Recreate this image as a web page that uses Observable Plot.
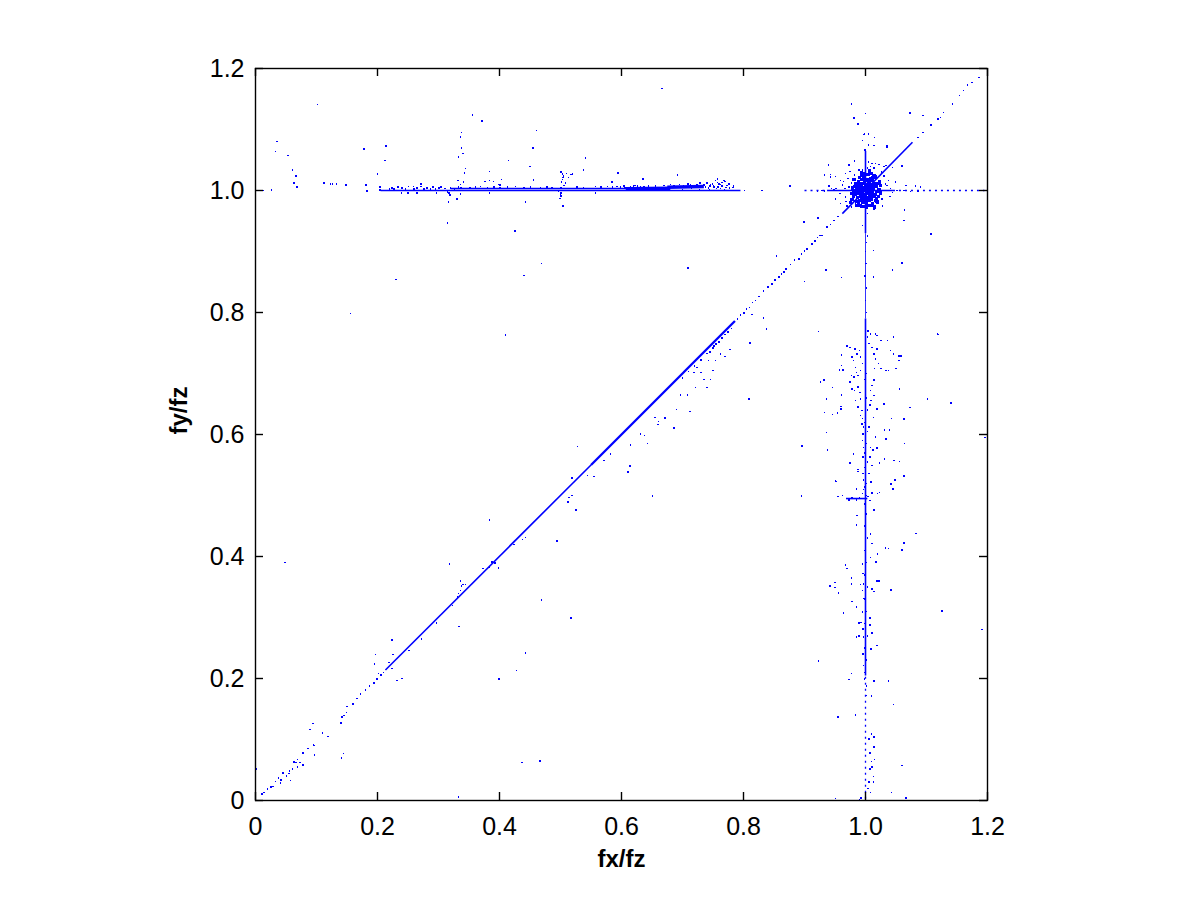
<!DOCTYPE html>
<html><head><meta charset="utf-8">
<script src="https://cdn.jsdelivr.net/npm/d3@7"></script>
<script src="https://cdn.jsdelivr.net/npm/@observablehq/plot@0.6"></script>
<style>body{margin:0;background:#fff}#chart{width:1200px;height:900px}</style>
</head><body><div id="chart"></div>
<script>
// ---- axis data ----
const xTicks = [0, 0.2, 0.4, 0.6, 0.8, 1.0, 1.2];
const yTicks = [0, 0.2, 0.4, 0.6, 0.8, 1.0, 1.2];
const tickLabels = ["0", "0.2", "0.4", "0.6", "0.8", "1.0", "1.2"];
const xLabel = "fx/fz";
const yLabel = "fy/fz";

// ---- dense runs of points that read as continuous lines: [x1, y1, x2, y2] ----
const denseRuns = [
  [0.213, 0.214, 0.55, 0.55],
  [0.205, 1.0, 0.795, 1.0],
  [0.32, 1.0033, 0.61, 1.0033],
  [1.0, 0.205, 1.0, 0.79],
  [0.937, 1.0, 1.045, 1.0],
  [1.0, 0.93, 1.0, 1.065],
  [0.962, 0.962, 1.077, 1.079],
  [0.968, 0.495, 1.003, 0.495]
];
const heavyRuns = [[0.55, 0.55, 0.786, 0.786]];
const cometRuns = [[0.607, 1.003, 0.68, 1.0035], [0.675, 1.0055, 0.735, 1.0065]];
const faintRuns = [[1.0, 0.79, 1.0, 0.93]];
const dottedRuns = [[1.0, 0.003, 1.0, 0.205], [0.9, 1.0, 0.937, 1.0], [1.045, 1.0, 1.195, 1.0]];

// ---- individual points [fx/fz, fy/fz] ----
const diagLowPts = [[0.202,0.208],[0.199,0.199],[0.194,0.193],[0.187,0.188],[0.180,0.181],[0.172,0.175],[0.166,0.167],[0.160,0.158],[0.150,0.154],[0.149,0.144],[0.145,0.139],[0.142,0.137],[0.140,0.127],[0.144,0.077],[0.141,0.070],[0.119,0.105],[0.110,0.111],[0.094,0.126],[0.089,0.116],[0.095,0.091],[0.097,0.090],[0.097,0.075],[0.086,0.085],[0.078,0.078],[0.078,0.058],[0.069,0.067],[0.066,0.062],[0.073,0.062],[0.069,0.055],[0.063,0.063],[0.061,0.052],[0.056,0.048],[0.055,0.044],[0.057,0.033],[0.051,0.040],[0.045,0.045],[0.042,0.034],[0.038,0.037],[0.041,0.029],[0.033,0.031],[0.029,0.023],[0.025,0.022],[0.020,0.019],[0.014,0.013],[0.011,0.011],[0.001,0.052],[0.195,0.224],[0.197,0.239],[0.224,0.263],[0.225,0.239],[0.219,0.226],[0.224,0.216],[0.232,0.197],[0.240,0.200],[0.210,0.210],[0.206,0.206]];

const diagMidPts = [[0.272,0.265],[0.252,0.246],[0.297,0.291],[0.323,0.320],[0.334,0.285],[0.336,0.360],[0.338,0.352],[0.336,0.344],[0.340,0.354],[0.344,0.354],[0.331,0.334],[0.333,0.339],[0.318,0.388],[0.373,0.380],[0.383,0.382],[0.388,0.391],[0.393,0.389],[0.399,0.199],[0.428,0.213],[0.443,0.242],[0.437,0.062],[0.466,0.065],[0.333,0.006],[0.384,0.460],[0.494,0.425],[0.469,0.329],[0.517,0.299],[0.525,0.476],[0.512,0.489],[0.514,0.497],[0.519,0.500],[0.544,0.533],[0.555,0.531],[0.571,0.557],[0.582,0.568],[0.611,0.538],[0.614,0.548],[0.398,0.381],[0.443,0.431],[0.438,0.428],[0.424,0.420],[0.528,0.580],[0.519,0.529],[0.651,0.499],[0.613,0.548],[0.611,0.539],[0.615,0.583],[0.631,0.601],[0.638,0.598],[0.643,0.585],[0.655,0.628],[0.660,0.616],[0.661,0.621],[0.671,0.627],[0.686,0.611],[0.690,0.641],[0.712,0.638],[0.697,0.665],[0.708,0.665],[0.721,0.677],[0.740,0.677],[0.735,0.690],[0.746,0.690],[0.750,0.705],[0.719,0.702],[0.730,0.702],[0.724,0.710],[0.743,0.721],[0.754,0.721],[0.762,0.732],[0.770,0.728],[0.778,0.739],[0.809,0.658],[0.811,0.750],[0.838,0.773],[0.048,0.390],[0.700,0.693],[0.710,0.703],[0.720,0.712],[0.730,0.722],[0.740,0.733],[0.745,0.735],[0.750,0.742],[0.752,0.745],[0.755,0.748],[0.760,0.752],[0.765,0.758],[0.770,0.764],[0.775,0.768],[0.780,0.774]];

const diagUpperPts = [[0.790,0.789],[0.795,0.796],[0.801,0.799],[0.805,0.806],[0.810,0.808],[0.815,0.816],[0.820,0.820],[0.825,0.826],[0.833,0.835],[0.840,0.842],[0.847,0.847],[0.852,0.853],[0.858,0.858],[0.862,0.863],[0.866,0.866],[0.870,0.871],[0.877,0.879],[0.884,0.886],[0.891,0.888],[0.895,0.896],[0.900,0.901],[0.904,0.904],[0.912,0.912],[0.917,0.917],[0.921,0.923],[0.925,0.926],[0.929,0.926],[0.937,0.940],[0.943,0.944],[0.948,0.951],[0.955,0.957],[1.085,1.087],[1.087,1.087],[1.094,1.095],[1.107,1.107],[1.119,1.117],[1.123,1.120],[1.128,1.128],[1.143,1.142],[1.154,1.156],[1.161,1.164],[1.167,1.173],[1.175,1.177],[1.186,1.185]];

const topStrayPts = [[0.102,1.141],[0.035,1.080],[0.033,1.064],[0.053,1.057],[0.061,1.034],[0.066,1.024],[0.063,1.012],[0.068,1.006],[0.012,1.0],[0.026,1.001],[0.112,1.012],[0.123,1.011],[0.126,1.011],[0.133,1.011],[0.148,1.009],[0.178,1.068],[0.181,1.009],[0.183,0.999],[0.200,1.027],[0.214,1.073],[0.212,1.049],[0.230,0.854],[0.156,0.798],[0.316,0.981],[0.315,0.947],[0.319,0.993],[0.330,0.986],[0.338,1.095],[0.336,1.088],[0.338,1.070],[0.340,1.061],[0.333,1.055],[0.344,1.036],[0.343,1.029],[0.332,1.016],[0.336,1.010],[0.341,1.014],[0.356,1.124],[0.371,1.114],[0.415,1.049],[0.461,1.098],[0.455,1.070],[0.450,1.039],[0.456,1.017],[0.384,1.031],[0.425,0.934],[0.443,0.981],[0.469,0.880],[0.440,0.861],[0.384,0.996],[0.541,1.053],[0.538,1.034],[0.594,1.029],[0.584,1.014],[0.635,1.019],[0.557,0.996],[0.443,0.982],[0.410,0.763],[0.666,1.167],[0.692,1.025],[0.709,0.873],[0.376,1.015],[0.384,1.016],[0.390,1.015],[0.403,1.018],[0.401,1.009],[0.399,1.010],[0.271,1.011],[0.802,1.0],[0.830,1.0],[0.876,1.007]];

const topLinePts = [[0.204,1.0055],[0.204,1.0011],[0.220,1.0027],[0.224,1.0044],[0.227,1.0027],[0.234,1.0055],[0.240,1.0044],[0.246,1.0027],[0.251,1.0066],[0.260,1.0027],[0.265,1.0044],[0.271,1.0066],[0.276,1.0027],[0.281,1.0044],[0.287,1.0027],[0.291,1.0055],[0.295,1.0027],[0.301,1.0044],[0.304,1.0055],[0.311,1.0033],[0.320,1.0044],[0.326,1.0027],[0.333,1.0055],[0.337,1.0044],[0.342,1.0033],[0.352,1.0044],[0.361,1.0055],[0.369,1.0066],[0.380,1.0044],[0.391,1.0055],[0.401,1.0044],[0.413,1.0055],[0.426,1.0066],[0.440,1.0044],[0.451,1.0055],[0.467,1.0044],[0.478,1.0055],[0.486,1.0044],[0.527,1.0055],[0.538,1.0044],[0.557,1.0066],[0.566,1.0055],[0.577,1.0066],[0.585,1.0055],[0.593,1.0066],[0.604,1.0077],[0.615,1.0055],[0.626,1.0077],[0.637,1.0066],[0.315,0.9973],[0.317,0.9962],[0.297,0.9962],[0.336,0.9945],[0.259,1.0066],[0.250,0.9962],[0.265,0.996],[0.239,0.9955],[0.501,1.030],[0.503,1.027],[0.505,1.024],[0.504,1.021],[0.503,1.018],[0.502,1.014],[0.510,1.028],[0.517,1.026],[0.520,1.027],[0.513,1.021],[0.508,1.012],[0.501,0.991],[0.499,0.987],[0.502,0.990],[0.504,0.975],[0.500,1.005],[0.502,1.004],[0.498,1.003],[0.501,0.996],[0.500,0.994],[0.506,1.008],[0.497,0.998]];

const cometPts = [[0.724,1.010],[0.729,1.012],[0.740,1.012],[0.746,1.010],[0.754,1.016],[0.757,1.019],[0.762,1.010],[0.769,1.015],[0.773,1.008],[0.783,1.005],[0.713,1.010],[0.702,1.008],[0.691,1.006],[0.680,1.010],[0.664,1.005],[0.648,1.005],[0.637,1.004],[0.620,1.007],[0.612,1.004],[0.585,1.014],[0.740,1.013],[0.749,1.011],[0.751,1.008],[0.757,1.013],[0.760,1.011],[0.765,1.013],[0.768,1.016],[0.770,1.015],[0.776,1.011],[0.784,1.007],[0.735,1.009],[0.745,1.007],[0.752,1.006],[0.758,1.006],[0.765,1.007],[0.771,1.005],[0.777,1.004],[0.743,1.004],[0.738,1.006],[0.709,1.011],[0.695,1.010],[0.686,1.008],[0.670,1.008],[0.656,1.007],[0.644,1.007],[0.631,1.006],[0.622,1.008],[0.598,1.006],[0.606,1.005],[0.728,1.002],[0.715,1.003],[0.700,1.002],[0.744,1.002],[0.756,1.003],[0.762,1.003],[0.769,1.001]];

const clusterCorePts = [[0.988,0.995],[0.990,1.003],[0.992,0.990],[0.993,1.008],[0.995,0.998],[0.996,1.012],[0.997,0.985],[0.998,1.004],[0.999,0.993],[1.001,1.006],[1.002,0.996],[1.003,1.010],[1.004,0.988],[1.005,1.002],[1.006,0.992],[1.007,1.014],[1.008,0.999],[1.009,1.005],[1.010,0.994],[1.011,1.009],[1.012,0.997],[1.013,1.003],[1.014,0.990],[1.015,1.012],[0.986,1.010],[0.987,0.988],[0.989,1.015],[0.991,0.983],[0.994,1.018],[0.996,0.980],[0.999,1.020],[1.001,0.982],[1.003,1.018],[1.006,0.984],[1.008,1.019],[1.010,0.986],[1.012,1.016],[1.016,0.993],[1.018,1.006],[1.019,0.998],[1.020,1.011],[0.984,1.000],[0.983,0.993],[0.982,1.007],[0.985,0.982],[0.980,0.990],[0.978,0.985],[0.976,0.980],[0.981,0.998],[0.979,1.004],[1.022,1.002],[1.021,0.990],[1.024,1.008],[1.025,0.996],[1.017,1.022],[1.014,1.025],[1.009,1.028],[1.004,1.026],[0.998,1.027],[0.993,1.024],[0.990,1.021],[1.006,0.975],[1.001,0.972],[0.996,0.974],[0.991,0.976],[1.011,0.978],[1.016,0.983],[1.000,0.990],[1.000,1.010],[0.997,1.000],[1.003,1.000],[0.994,1.005],[1.006,1.008],[1.006,0.995],[0.992,0.997],[1.008,1.001],[0.998,1.014],[1.002,0.986],[0.996,0.991],[0.999,1.001],[1.001,0.998],[0.995,1.003],[1.004,1.004],[0.993,0.994],[1.007,0.996],[1.000,1.016],[1.000,0.984],[0.989,1.009],[1.011,1.001],[0.986,1.004],[1.015,1.006],[0.991,1.012],[1.009,0.989],[0.987,0.999],[1.013,0.993],[0.994,0.987],[1.005,1.015],[0.983,1.012],[1.018,0.987],[0.997,1.022],[1.002,0.978],[0.978,0.995],[1.023,1.014],[0.989,0.980],[1.012,1.021],[0.981,1.018],[1.020,0.981],[0.993,1.030],[1.006,1.032],[0.985,0.975],[1.015,0.973]];

const clusterHaloPts = [[0.997,1.092],[1.005,1.093],[1.015,1.087],[0.995,1.082],[1.005,1.075],[1.014,1.074],[1.035,1.073],[0.999,1.066],[0.982,1.048],[0.939,1.043],[0.973,1.042],[1.016,1.044],[1.022,1.043],[1.014,1.037],[1.030,1.039],[1.034,1.041],[1.044,1.038],[1.005,1.047],[1.011,1.044],[1.008,1.039],[1.003,1.037],[0.995,1.034],[0.989,1.034],[0.967,1.028],[0.982,1.025],[0.989,1.022],[0.995,1.027],[0.933,1.025],[0.943,1.026],[0.951,1.023],[0.959,1.016],[0.964,1.015],[0.977,1.012],[0.940,1.007],[0.944,1.003],[0.948,1.001],[0.929,1.000],[0.933,0.999],[0.921,0.998],[0.952,1.003],[0.966,1.003],[0.973,1.006],[1.033,1.011],[1.049,1.014],[1.035,1.008],[1.041,1.003],[1.066,1.008],[1.082,1.007],[1.090,1.006],[1.044,0.997],[1.052,1.000],[1.063,1.000],[1.074,0.998],[1.086,0.999],[0.951,0.986],[0.959,0.979],[0.967,0.989],[0.970,0.975],[0.977,0.973],[0.981,0.984],[0.984,0.978],[0.992,0.973],[1.011,0.975],[1.016,0.981],[1.027,0.986],[1.014,0.970],[1.064,0.968],[1.003,0.962],[0.995,0.943],[0.922,0.955],[1.003,0.925],[0.899,0.948],[0.854,0.893],[0.900,0.851],[0.935,0.870],[0.961,0.857],[1.107,0.929],[1.060,0.881],[1.044,0.870],[1.013,0.858],[1.013,0.902],[0.833,0.791],[0.814,0.797],[0.977,1.142],[0.981,1.119],[0.988,1.109],[1.035,1.071],[0.939,1.041],[0.943,1.022],[1.000,1.126],[0.998,1.093],[1.073,1.127],[1.094,1.123],[1.060,1.040],[1.063,0.951],[1.119,0.764],[1.002,0.800],[1.000,0.820],[1.002,0.840],[0.999,0.860],[1.001,0.880],[1.000,0.900],[1.002,0.915],[0.971,1.020],[0.962,1.009],[1.030,1.024],[1.028,0.975],[0.968,0.982],[1.038,1.016],[1.026,1.030],[0.975,1.031],[0.958,0.995],[1.040,0.990]];

const verticalPts = [[0.961,0.730],[0.961,0.713],[0.957,0.706],[0.963,0.706],[0.970,0.745],[0.975,0.743],[0.978,0.727],[0.980,0.721],[0.983,0.740],[0.986,0.732],[0.990,0.738],[0.992,0.727],[0.984,0.710],[0.985,0.702],[0.988,0.697],[0.992,0.705],[0.995,0.716],[0.981,0.694],[0.977,0.697],[0.975,0.686],[0.978,0.675],[0.982,0.672],[0.988,0.678],[0.991,0.669],[0.984,0.656],[0.992,0.658],[0.988,0.645],[0.994,0.639],[0.992,0.631],[0.995,0.626],[0.994,0.617],[0.997,0.612],[0.996,0.601],[0.995,0.590],[0.997,0.579],[0.996,0.563],[0.998,0.546],[0.996,0.536],[0.997,0.525],[0.998,0.514],[0.995,0.503],[0.999,0.486],[0.923,0.769],[1.118,0.765],[1.102,0.658],[1.140,0.652],[1.073,0.644],[0.926,0.686],[0.932,0.689],[0.946,0.677],[0.936,0.658],[0.933,0.636],[0.896,0.581],[0.938,0.575],[0.936,0.603],[0.946,0.633],[0.954,0.635],[0.960,0.646],[0.960,0.642],[0.961,0.665],[0.980,0.568],[0.975,0.553],[0.988,0.543],[0.988,0.539],[0.951,0.524],[0.952,0.523],[0.985,0.511],[0.955,0.498],[0.962,0.500],[0.973,0.493],[0.895,0.499],[0.986,0.467],[0.985,0.452],[1.004,0.770],[1.008,0.765],[1.016,0.765],[1.019,0.762],[1.006,0.749],[1.011,0.743],[1.019,0.740],[1.025,0.754],[1.036,0.754],[1.046,0.760],[1.041,0.738],[1.046,0.732],[1.055,0.729],[1.058,0.729],[1.055,0.721],[1.050,0.708],[1.034,0.705],[1.038,0.705],[1.056,0.675],[1.030,0.650],[1.019,0.642],[1.043,0.626],[1.063,0.625],[1.039,0.607],[1.031,0.607],[1.034,0.593],[1.064,0.585],[1.019,0.578],[1.012,0.575],[1.023,0.553],[1.031,0.560],[1.047,0.557],[1.056,0.556],[1.063,0.532],[1.042,0.519],[1.048,0.525],[1.045,0.511],[1.023,0.505],[1.011,0.504],[1.020,0.503],[1.014,0.476],[1.083,0.438],[1.063,0.421],[1.033,0.413],[1.038,0.413],[1.060,0.411],[1.008,0.437],[1.011,0.421],[1.014,0.732],[1.016,0.724],[1.021,0.716],[1.025,0.708],[1.015,0.708],[1.014,0.689],[1.011,0.680],[1.008,0.672],[1.014,0.664],[1.009,0.656],[1.007,0.648],[1.013,0.628],[1.006,0.612],[1.016,0.596],[1.008,0.579],[1.007,0.563],[1.011,0.549],[1.006,0.536],[1.009,0.522],[1.007,0.492],[1.003,0.760],[1.002,0.700],[0.998,0.690],[1.002,0.660],[1.003,0.640],[0.998,0.620],[1.003,0.605],[1.002,0.585],[0.998,0.570],[1.003,0.555],[1.002,0.520],[0.997,0.510],[1.002,0.500],[1.004,0.498],[0.990,0.497],[0.985,0.493],[0.978,0.497],[1.002,0.470],[0.998,0.450],[1.003,0.430],[0.998,0.410],[1.002,0.390],[0.998,0.370],[1.003,0.350],[0.999,0.330],[1.002,0.310],[0.998,0.290],[1.003,0.270],[0.998,0.250],[1.002,0.230],[0.998,0.210],[0.967,0.386],[0.970,0.380],[0.942,0.352],[0.950,0.357],[0.950,0.349],[0.956,0.340],[0.977,0.365],[0.977,0.355],[0.978,0.326],[0.964,0.307],[0.985,0.317],[0.989,0.291],[0.985,0.268],[0.989,0.270],[0.923,0.229],[0.977,0.208],[0.973,0.198],[0.984,0.140],[0.955,0.137],[0.951,0.003],[1.066,0.004],[1.043,0.013],[1.060,0.057],[1.046,0.157],[1.038,0.196],[1.014,0.196],[1.125,0.311],[1.191,0.280],[1.041,0.345],[1.020,0.404],[1.017,0.391],[1.008,0.398],[1.019,0.360],[1.022,0.360],[1.011,0.347],[1.014,0.343],[1.019,0.254],[1.009,0.248],[1.011,0.275],[1.007,0.299],[1.007,0.288],[1.033,0.414],[1.060,0.411],[1.063,0.422],[1.010,0.109],[1.014,0.104],[1.006,0.101],[1.007,0.078],[1.014,0.088],[1.015,0.067],[1.010,0.064],[1.007,0.052],[1.011,0.055],[1.013,0.039],[1.006,0.030],[1.013,0.030],[1.008,0.013],[1.004,0.020],[1.002,0.188],[1.002,0.172],[1.010,0.171],[0.995,0.388],[0.996,0.372],[0.997,0.355],[0.992,0.354],[0.995,0.344],[0.997,0.331],[0.995,0.309],[0.993,0.292],[0.996,0.281],[0.997,0.268],[0.996,0.240],[0.997,0.221],[0.998,0.199],[0.990,0.002],[0.993,0.004],[1.042,0.345],[1.196,0.595]];

// ---- drawing ----
const blue = "#0000ff";
const W = 1200, H = 900, mL = 255, mR = 213, mT = 68, mB = 100;
const frameW = W - mL - mR, frameH = H - mT - mB, tickLen = 8;
const fmt = d => tickLabels[xTicks.indexOf(d)] ?? String(d);
const dotOpts = {x: d => d[0], y: d => d[1], symbol: "square", r: 0.85, fill: blue, stroke: "none", shapeRendering: "crispEdges"};
const linkOpts = {x1: d => d[0], y1: d => d[1], x2: d => d[2], y2: d => d[3], stroke: blue};
const tickStyle = {stroke: "#000", strokeWidth: 1.4};

const chart = Plot.plot({
  width: W,
  height: H,
  marginLeft: mL,
  marginRight: mR,
  marginTop: mT,
  marginBottom: mB,
  x: {domain: [0, 1.2]},
  y: {domain: [0, 1.2]},
  style: {fontFamily: "'Liberation Sans', Arial, Helvetica, sans-serif", fontSize: "25px", color: "#000", background: "#fff"},
  marks: [
    Plot.link(denseRuns, {...linkOpts, strokeWidth: 1.6}),
    Plot.link(heavyRuns, {...linkOpts, strokeWidth: 2.3}),
    Plot.link(cometRuns, {...linkOpts, strokeWidth: 3.5}),
    Plot.link(faintRuns, {...linkOpts, strokeWidth: 0.8}),
    Plot.link(dottedRuns, {...linkOpts, strokeWidth: 1.3, strokeDasharray: "2,4"}),
    Plot.dot(diagLowPts, dotOpts),
    Plot.dot(diagMidPts, dotOpts),
    Plot.dot(diagUpperPts, dotOpts),
    Plot.dot(topStrayPts, dotOpts),
    Plot.dot(topLinePts, dotOpts),
    Plot.dot(cometPts, dotOpts),
    Plot.dot(clusterHaloPts, dotOpts),
    Plot.dot(clusterCorePts, {...dotOpts, r: 1.8}),
    Plot.dot(verticalPts, dotOpts),
    Plot.frame({stroke: "#000", strokeWidth: 1.4}),
    // inward ticks on all four sides
    Plot.ruleX(xTicks, {x: d => d, insetTop: frameH - tickLen, ...tickStyle}),
    Plot.ruleX(xTicks, {x: d => d, insetBottom: frameH - tickLen, ...tickStyle}),
    Plot.ruleY(yTicks, {y: d => d, insetRight: frameW - tickLen, ...tickStyle}),
    Plot.ruleY(yTicks, {y: d => d, insetLeft: frameW - tickLen, ...tickStyle}),
    Plot.axisX(xTicks, {anchor: "bottom", tickSize: 0, tickPadding: 17, tickFormat: fmt, label: null}),
    Plot.axisY(yTicks, {anchor: "left", tickSize: 0, tickPadding: 11, tickFormat: fmt, label: null}),
    Plot.text([xLabel], {frameAnchor: "bottom", dy: 59, lineAnchor: "middle", fontWeight: "bold", fontSize: 24, text: d => d}),
    Plot.text([yLabel], {frameAnchor: "left", dx: -76, rotate: -90, lineAnchor: "middle", fontWeight: "bold", fontSize: 24, text: d => d})
  ]
});
document.getElementById("chart").appendChild(chart);
</script>
</body></html>
